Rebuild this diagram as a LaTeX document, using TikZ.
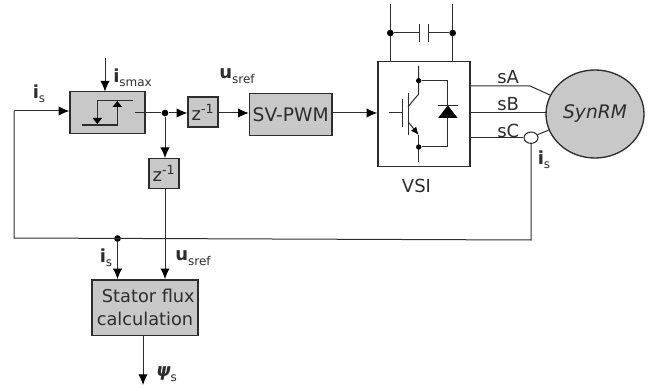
\documentclass[tikz,border=0pt]{standalone}
\usepackage{fontspec}
\setmainfont{DejaVu Sans}
\usetikzlibrary{arrows.meta,shapes.geometric}
\definecolor{blockgray}{RGB}{200,200,200}
\definecolor{inkc}{RGB}{45,45,45}
\newcommand{\bsym}[2]{\textbf{#1}\raisebox{-0.45ex}{\fontsize{9}{11}\selectfont #2}}
\tikzset{
  wire/.style={draw=inkc,line width=0.75pt},
  sig/.style={wire,-{Latex[length=8pt,width=7pt,color=black]}},
  block/.style={draw=inkc,line width=1pt,fill=blockgray,inner sep=0pt,text=inkc},
  dot/.style={circle,fill=black,inner sep=0pt,minimum size=5pt},
  lbl/.style={inner sep=0pt,text=inkc,font=\fontsize{13.5}{15}\selectfont},
}
\begin{document}
\begin{tikzpicture}[x=0.75pt,y=-0.75pt]
\useasboundingbox (0,0) rectangle (655,388);
% blocks
\node[block,minimum width=56.25pt,minimum height=31.5pt] (hyst) at (107.5,112.5) {};
\node[block,minimum width=22.5pt,minimum height=22.5pt,font=\fontsize{13.5}{15}\selectfont] (za) at (203,112) {z\textsuperscript{-1}};
\node[block,minimum width=22.5pt,minimum height=22pt,font=\fontsize{13.5}{15}\selectfont] (zb) at (164,173.5) {z\textsuperscript{-1}};
\node[block,minimum width=62pt,minimum height=31.5pt,font=\fontsize{14}{16}\selectfont] (pwm) at (290.7,114.3) {SV-PWM};
\node[block,minimum width=79.5pt,minimum height=41.5pt,align=center,font=\fontsize{13.3}{17}\selectfont] (flux) at (145,307.5) {\hspace*{5pt}Stator flux\\calculation};
\node[draw=inkc,line width=1pt,minimum width=69pt,minimum height=79pt,inner sep=0pt] (vsi) at (424,114) {};
\node[ellipse,draw=inkc,line width=1pt,fill=blockgray,minimum width=73.5pt,minimum height=66pt,inner sep=0pt,font=\fontsize{14}{16}\selectfont\itshape,text=inkc] (motor) at (595,114) {SynRM};
% hysteresis symbol
\coordinate (ha) at (97.3,100.7); \coordinate (hb) at (133,100.7);
\coordinate (hc) at (81.7,125); \coordinate (hd) at (117.3,125);
\coordinate (he) at (97.3,125); \coordinate (hf) at (117.3,100.7);
\draw[wire,line width=0.9pt] (hb) -- (ha) -- (he);
\draw[wire,line width=0.9pt] (hc) -- (hd) -- (hf);
\fill[black] (92.5,118) -- (102,118) -- (97.3,124) -- cycle;
\fill[black] (112.5,107) -- (122,107) -- (117.3,101) -- cycle;
% signal path
\coordinate (is1) at (105,58);
\draw[sig] (is1) -- (105,91.5);
\node[dot] (j1) at (165,113) {};
\coordinate (hout) at (135.25,113);
\draw[wire] (hout) -- (j1);
\draw[sig] (j1) -- (za.west |- j1);
\draw[sig] (j1) -- (zb.north -| j1);
\draw[sig] (za.east |- 0,113) -- (pwm.west |- 0,113);
\draw[sig] (pwm.east |- 0,113) -- (vsi.west |- 0,113);
% feedback
\node[ellipse,draw=inkc,line width=0.8pt,fill=white,minimum width=10.5pt,minimum height=8.5pt,inner sep=0pt] (sens) at (531,137.7) {};
\coordinate (fbr) at (531,240);
\coordinate (fbl) at (14,238);
\coordinate (fbu) at (14,111);
\node[dot] (j2) at (117.5,238.5) {};
\draw[wire] (sens.south) -- (fbr) -- (fbl) -- (fbu);
\draw[sig] (fbu) -- (hyst.west |- fbu);
\draw[sig] (j2) -- (flux.north -| j2);
\draw[sig] (zb.south -| 165,0) -- (flux.north -| 165,0);
\coordinate (psi) at (143,385);
\draw[sig] (flux.south -| psi) -- (psi);
% phases
\coordinate (sa1) at (530,86);
\coordinate (sa2) at (550,95);
\draw[wire] (vsi.east |- sa1) -- (sa1) -- (sa2);
\coordinate (sb) at (546.5,113);
\draw[wire] (vsi.east |- sb) -- (sb);
\coordinate (sc) at (549,130);
\draw[wire] (vsi.east |- sens) -- (sens.west);
\draw[wire] (sens.25) -- (sc);
% DC link
\coordinate (ra) at (390.3,4); \coordinate (rb) at (452.7,4);
\draw[wire] (ra) -- (vsi.north -| ra);
\draw[wire] (rb) -- (vsi.north -| rb);
\node[dot] (ca) at (390.3,33) {};
\node[dot] (cb) at (452.7,33) {};
\coordinate (cp1) at (419.3,33); \coordinate (cp2) at (428,33);
\draw[wire] (ca) -- (cp1); \draw[wire] (cp2) -- (cb);
\draw[wire] (419.3,24) -- (419.3,41.7);
\draw[wire] (428,24) -- (428,41.7);
% IGBT
\draw[wire] (389.3,113) -- (402.7,113);
\draw[wire] (402.7,99) -- (402.7,127);
\draw[wire] (408,93) -- (408,135);
\draw[wire] (418.7,66) -- (418.7,94) -- (408,106.7);
\draw[wire,-{Latex[length=6pt,width=5pt,color=black]}] (408,121.7) -- (418.7,135);
\draw[wire] (418.7,135) -- (418.7,161.7);
\node[dot,minimum size=4pt] (ta) at (418.7,80.7) {};
\node[dot,minimum size=4pt] (tb) at (418.7,147) {};
\draw[wire] (ta) -- (447.3,80.7) -- (447.3,147) -- (tb);
\fill[black] (447.8,105.3) -- (457.5,117.8) -- (438.3,117.8) -- cycle;
\draw[wire,line width=0.9pt] (437.5,105.3) -- (458,105.3);
% labels
\node[lbl,anchor=west] (l1) at (32.5,94) {\bsym{i}{s}};
\node[lbl,anchor=west] (l2) at (113,78) {\bsym{i}{smax}};
\node[lbl,anchor=west] (l3) at (219,76) {\bsym{u}{sref}};
\node[lbl,anchor=west] (l4) at (497,77) {sA};
\node[lbl,anchor=west] (l5) at (497,104.5) {sB};
\node[lbl,anchor=west] (l6) at (497,130.5) {sC};
\node[lbl,anchor=west] (l7) at (537.5,160) {\bsym{i}{s}};
\node[lbl,anchor=center] (l8) at (416.5,186) {VSI};
\node[lbl,anchor=west] (l9) at (99.5,258) {\bsym{i}{s}};
\node[lbl,anchor=west] (l10) at (175,258) {\bsym{u}{sref}};
\node[lbl,anchor=west] (l11) at (156,374) {\textbf{\itshape ψ}\raisebox{-0.45ex}{\fontsize{9}{11}\selectfont s}};
\end{tikzpicture}
\end{document}
